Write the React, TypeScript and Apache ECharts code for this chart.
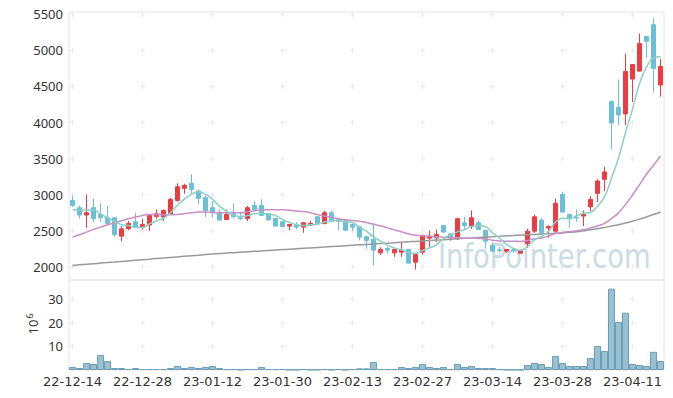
import React, { useEffect, useRef } from "react";
import * as echarts from "echarts";

const dates = [
  "22-12-14","22-12-15","22-12-16","22-12-19","22-12-20","22-12-21","22-12-22","22-12-23","22-12-26","22-12-27",
  "22-12-28","22-12-29","23-01-02","23-01-03","23-01-04","23-01-05","23-01-06","23-01-09","23-01-10","23-01-11",
  "23-01-12","23-01-13","23-01-16","23-01-17","23-01-18","23-01-19","23-01-20","23-01-25","23-01-26","23-01-27",
  "23-01-30","23-01-31","23-02-01","23-02-02","23-02-03","23-02-06","23-02-07","23-02-08","23-02-09","23-02-10",
  "23-02-13","23-02-14","23-02-15","23-02-16","23-02-17","23-02-20","23-02-21","23-02-22","23-02-23","23-02-24",
  "23-02-27","23-02-28","23-03-02","23-03-03","23-03-06","23-03-07","23-03-08","23-03-09","23-03-10","23-03-13",
  "23-03-14","23-03-15","23-03-16","23-03-17","23-03-20","23-03-21","23-03-22","23-03-23","23-03-24","23-03-27",
  "23-03-28","23-03-29","23-03-30","23-03-31","23-04-03","23-04-04","23-04-05","23-04-06","23-04-07","23-04-10",
  "23-04-11","23-04-12","23-04-13","23-04-14","23-04-17"
];

const opens = [
  2921,2820,2718,2820,2727,2681,2681,2426,2528,2625,2551,2579,2699,2690,2736,2921,3088,3158,3051,2958,
  2820,2759,2657,2741,2681,2671,2852,2852,2736,2671,2625,2565,2574,2551,2579,2694,2602,2750,2657,2644,
  2588,2556,2417,2380,2194,2255,2194,2204,2241,2065,2204,2398,2403,2574,2458,2389,2611,2565,2611,2505,
  2296,2236,2218,2236,2190,2324,2495,2648,2537,2495,3005,2727,2685,2704,2833,3019,3213,4294,4212,4120,
  4603,4713,5191,5357,4520
];
const closes = [
  2852,2718,2750,2667,2681,2602,2449,2528,2602,2551,2588,2713,2736,2782,2935,3111,3130,3074,2949,2782,
  2750,2648,2727,2695,2667,2820,2796,2713,2657,2565,2556,2588,2551,2611,2602,2597,2750,2634,2630,2509,
  2551,2412,2366,2232,2241,2232,2241,2232,2051,2171,2435,2426,2449,2482,2403,2667,2574,2681,2519,2356,
  2218,2227,2241,2227,2227,2495,2694,2472,2560,2880,2759,2667,2676,2727,2935,3190,3315,3995,4106,4708,
  4805,5095,5127,4750,4777
];
const lows = [
  2829,2667,2542,2620,2620,2588,2417,2356,2509,2537,2519,2495,2667,2634,2727,2903,3014,3005,2866,2695,
  2681,2648,2648,2681,2648,2634,2787,2704,2634,2556,2556,2509,2519,2472,2574,2588,2588,2620,2509,2505,
  2495,2366,2250,2023,2162,2185,2139,2139,2046,1963,2171,2278,2343,2472,2356,2370,2528,2528,2509,2250,
  2204,2194,2194,2194,2185,2264,2472,2449,2403,2463,2750,2542,2625,2565,2773,2898,3051,3630,3963,3963,
  4285,4700,4897,4414,4359
];
const highs = [
  2990,2852,3005,2945,2880,2843,2681,2565,2634,2750,2667,2727,2796,2796,2958,3158,3153,3283,3074,2982,
  2912,2796,2796,2880,2750,2843,2912,2935,2750,2681,2634,2597,2620,2620,2639,2704,2778,2782,2667,2657,
  2597,2565,2426,2602,2273,2278,2250,2347,2241,2194,2449,2505,2519,2574,2458,2681,2694,2782,2648,2519,
  2343,2278,2241,2250,2241,2528,2727,2681,2574,2945,3042,2736,2796,2782,2982,3213,3389,4300,4598,4957,
  4810,5233,5191,5449,4883
];
// volume, millions of shares
const volumes = [
  1.3,0.85,3.0,2.55,6.4,3.8,0.85,0.85,0.4,0.85,0.4,0.4,0.4,0.4,0.85,1.7,0.85,1.3,0.85,1.3,
  1.7,0.85,0.4,0.4,0.15,0.4,0.4,1.3,0.4,0.4,0.4,0.15,0.15,0.4,0.15,0.15,0.4,0.15,0.4,0.15,
  0.4,0.7,0.7,3.4,0.4,0.4,0.4,1.3,0.85,1.3,2.55,1.3,0.85,1.3,0.4,2.55,1.3,1.7,0.85,0.85,
  0.85,0.4,0.1,0.1,0.1,2.1,3.0,2.55,1.3,6.0,3.0,1.7,1.7,1.7,5.1,10.2,8.1,34.5,20.4,24.3,
  2.55,2.1,1.7,7.7,3.8
];
const ma5 = [
  2790,2788,2786,2790,2734,2684,2630,2585,2572,2546,2544,2596,2638,2674,2751,2855,2939,3006,3040,3009,
  2937,2841,2771,2720,2697,2711,2741,2738,2731,2710,2657,2616,2583,2574,2582,2590,2622,2639,2643,2624,
  2615,2547,2494,2414,2360,2297,2262,2236,2199,2185,2226,2263,2306,2393,2439,2485,2515,2561,2569,2559,
  2470,2400,2312,2254,2228,2283,2377,2423,2490,2620,2673,2668,2708,2742,2753,2839,2969,3232,3508,3863,
  4186,4542,4768,4897,4911
];
const ma20 = [
  2412,2444,2482,2519,2551,2583,2611,2639,2667,2690,2713,2727,2727,2722,2722,2727,2738,2750,2760,2760,
  2755,2751,2750,2752,2751,2762,2779,2788,2791,2792,2790,2784,2775,2766,2750,2724,2705,2683,2667,2653,
  2643,2632,2614,2590,2569,2540,2512,2488,2458,2438,2432,2424,2419,2412,2402,2406,2397,2399,2394,2386,
  2369,2360,2354,2354,2353,2366,2389,2401,2426,2462,2478,2490,2501,2514,2540,2566,2603,2669,2748,2866,
  2995,3139,3283,3409,3537
];
const ma60 = [
  2020,2028,2036,2044,2052,2060,2067,2075,2083,2091,2099,2107,2115,2122,2130,2138,2146,2154,2162,2170,
  2177,2185,2191,2197,2203,2209,2215,2221,2227,2233,2239,2245,2251,2257,2263,2269,2275,2281,2287,2293,
  2299,2305,2311,2317,2323,2329,2335,2341,2347,2353,2359,2365,2371,2377,2383,2389,2395,2401,2407,2412,
  2418,2424,2430,2435,2440,2445,2450,2455,2460,2465,2470,2478,2488,2500,2513,2528,2545,2565,2585,2607,
  2632,2662,2692,2725,2760
];
const priceTicks = [2000, 2500, 3000, 3500, 4000, 4500, 5000, 5500];
const volumeTicks = [10, 20, 30];
const labelIndexes = [0, 10, 20, 30, 40, 50, 60, 70, 80];

const FONT = "'Noto Sans', sans-serif";
const CROSS = "path://M2,0L3,0L3,2L5,2L5,3L3,3L3,5L2,5L2,3L0,3L0,2L2,2Z";

export default function App() {
  const ref = useRef<HTMLDivElement>(null);
  useEffect(() => {
    const chart = echarts.init(ref.current!, null, { renderer: "svg" });
    const candles = dates.map((_, i) => [opens[i], closes[i], lows[i], highs[i]]);
    const priceCross: number[][] = [];
    const volCross: number[][] = [];
    labelIndexes.forEach((xi) => {
      priceTicks.forEach((v) => priceCross.push([xi, v]));
      volumeTicks.forEach((v) => volCross.push([xi, v]));
    });
    const lineCommon = { type: "line", xAxisIndex: 0, yAxisIndex: 0, symbol: "none", smooth: 0.4, z: 4 };
    const plain = (v: number) => String(v);
    chart.setOption({
      animation: false,
      textStyle: { fontFamily: FONT },
      grid: [
        { left: 69, right: 9, top: 12, bottom: 118, show: true, borderColor: "#e6e6e6", borderWidth: 1 },
        { left: 69, right: 9, top: 280, bottom: 28, show: true, borderColor: "#e6e6e6", borderWidth: 1 },
      ],
      xAxis: [
        {
          type: "category", gridIndex: 0, data: dates, boundaryGap: true,
          axisLine: { show: false }, axisTick: { show: false }, axisLabel: { show: false }, splitLine: { show: false },
        },
        {
          type: "category", gridIndex: 1, data: dates, boundaryGap: true,
          axisLine: { show: false }, axisTick: { show: false }, splitLine: { show: false },
          axisLabel: { interval: 9, color: "#333", fontSize: 13, fontFamily: "'DejaVu Sans', sans-serif", margin: 5 },
        },
      ],
      yAxis: [
        {
          type: "value", gridIndex: 0, min: 1818, max: 5532,
          axisLine: { show: false }, axisTick: { show: false }, splitLine: { show: false },
          axisLabel: { customValues: priceTicks, formatter: plain, color: "#333", fontSize: 13, fontFamily: FONT, margin: 6 },
        },
        {
          type: "value", gridIndex: 1, min: 0, max: 38.2,
          axisLine: { show: false }, axisTick: { show: false }, splitLine: { show: false },
          axisLabel: { customValues: volumeTicks, formatter: plain, color: "#333", fontSize: 13, fontFamily: FONT, margin: 6 },
        },
      ],
      graphic: [
        {
          type: "text", x: 438, y: 257, z: 0, scaleX: 0.83,
          style: { text: "InfoPointer.com", font: "33px 'DejaVu Sans', sans-serif", fill: "#cadce6", verticalAlign: "middle", align: "left" },
        },
        {
          type: "text", x: 33, y: 327, rotation: Math.PI / 2,
          style: { text: "10", font: "13px 'Noto Sans', sans-serif", fill: "#333", align: "center", verticalAlign: "middle" },
        },
        {
          type: "text", x: 29, y: 316, rotation: Math.PI / 2,
          style: { text: "6", font: "9px 'Noto Sans', sans-serif", fill: "#333", align: "center", verticalAlign: "middle" },
        },
      ],
      series: [
        {
          type: "scatter", xAxisIndex: 0, yAxisIndex: 0, data: priceCross, symbol: CROSS, symbolSize: 5,
          itemStyle: { color: "#e4e4e4" }, z: 1, silent: true,
        },
        {
          type: "scatter", xAxisIndex: 1, yAxisIndex: 1, data: volCross, symbol: CROSS, symbolSize: 5,
          itemStyle: { color: "#e4e4e4" }, z: 1, silent: true,
        },
        {
          type: "candlestick", xAxisIndex: 0, yAxisIndex: 0, data: candles, barWidth: 5, z: 3,
          itemStyle: { color: "#eb3c41", color0: "#6cc0d6", borderColor: "#eb3c41", borderColor0: "#6cc0d6", borderWidth: 1 },
        },
        { ...lineCommon, name: "MA60", data: ma60, lineStyle: { color: "#9a9a9a", width: 1.5 } },
        { ...lineCommon, name: "MA20", data: ma20, lineStyle: { color: "#c98fc6", width: 1.5 } },
        { ...lineCommon, name: "MA5", data: ma5, lineStyle: { color: "#8ccfc5", width: 1.5 } },
        {
          type: "bar", xAxisIndex: 1, yAxisIndex: 1, data: volumes, barWidth: "100%", z: 3,
          itemStyle: { color: "#98c0d0", borderColor: "#6c9fb5", borderWidth: 1 },
        },
      ],
    });
    return () => chart.dispose();
  }, []);
  return <div ref={ref} style={{ position: "absolute", left: 0, top: 0, width: 673, height: 398 }} />;
}
